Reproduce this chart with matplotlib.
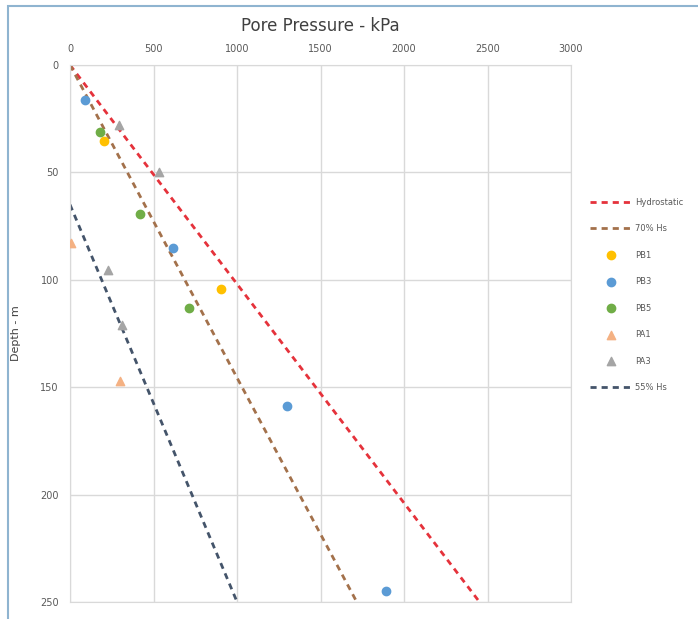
import numpy as np
from matplotlib import pyplot as plt
from matplotlib.patches import Rectangle

# reference lines: (pressure kPa, depth m) end points
hydro_p = [0, 2452]
hydro_d = [0, 250]
h70_p = [0, 1717]
h70_d = [0, 250]
h55_p = [0, 995]
h55_d = [65, 249]

# borehole measurements
pb1_p = [204, 904]
pb1_d = [35.4, 104.3]
pb3_p = [90, 617, 1299, 1892]
pb3_d = [16.3, 85.2, 158.8, 245]
pb5_p = [180, 419, 713]
pb5_d = [31.2, 69.4, 113]
pa1_p = [6, 299]
pa1_d = [83, 147]
pa3_p = [293, 533, 228, 311]
pa3_d = [27.9, 49.8, 95.4, 121]

x_ticks = [0, 500, 1000, 1500, 2000, 2500, 3000]
y_ticks = [0, 50, 100, 150, 200, 250]

fig = plt.figure(figsize=(6.98, 6.19), dpi=100)
fig.patches.append(Rectangle((0.012, -0.01), 1.0, 1.0, transform=fig.transFigure,
                             fill=False, edgecolor='#8fb4d0', linewidth=1.5))
ax = fig.add_axes([0.1003, 0.0275, 0.7178, 0.8675])

dash = (0, (2.2, 1.8))
ax.plot(hydro_p, hydro_d, color='#e5323b', lw=2, linestyle=dash, label='Hydrostatic')
ax.plot(h70_p, h70_d, color='#a3714b', lw=2, linestyle=dash, label='70% Hs')
ax.scatter(pb1_p, pb1_d, s=36, color='#ffc000', label='PB1', zorder=3)
ax.scatter(pb3_p, pb3_d, s=36, color='#5b9bd5', label='PB3', zorder=3)
ax.scatter(pb5_p, pb5_d, s=36, color='#70ad47', label='PB5', zorder=3)
ax.scatter(pa1_p, pa1_d, s=36, marker='^', color='#f4b183', label='PA1', zorder=3)
ax.scatter(pa3_p, pa3_d, s=36, marker='^', color='#a5a5a5', label='PA3', zorder=3)
ax.plot(h55_p, h55_d, color='#44546a', lw=2, linestyle=dash, label='55% Hs')

ax.set_xlim(0, 3000)
ax.set_ylim(250, 0)
ax.set_xticks(x_ticks)
ax.set_yticks(y_ticks)
ax.xaxis.tick_top()
ax.tick_params(length=0, labelsize=7, colors='#595959', pad=8)
ax.grid(color='#d9d9d9', lw=1)
for s in ax.spines.values():
    s.set_color('#d9d9d9')
ax.set_axisbelow(True)

ax.set_ylabel('Depth - m', fontsize=8, color='#404040', labelpad=14)
fig.text(0.459, 0.958, 'Pore Pressure - kPa', fontsize=12, color='#404040', ha='center', va='center')

ax.legend(loc='center left', bbox_to_anchor=(1.022, 0.572), frameon=False, fontsize=6,
          labelcolor='#595959', handlelength=5.2, labelspacing=2.1, handletextpad=0.3)

plt.savefig('out.png', dpi=100)
